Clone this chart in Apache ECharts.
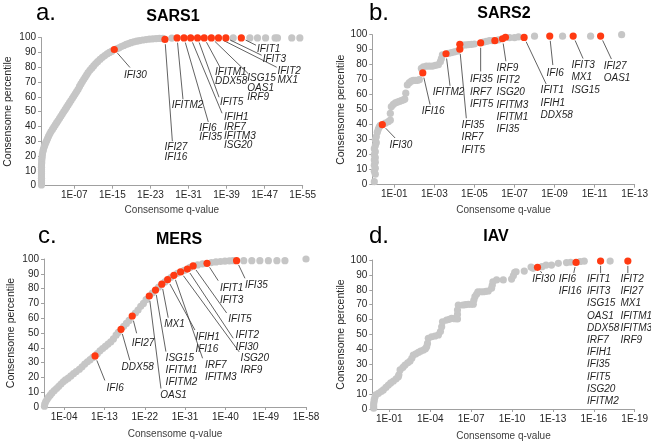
<!DOCTYPE html>
<html><head><meta charset="utf-8">
<script src="https://cdn.jsdelivr.net/npm/echarts@6/dist/echarts.min.js"></script>
<style>html,body{margin:0;padding:0;background:#fff}#c{width:651px;height:443px}</style>
</head><body><div id="c"></div>
<script>
// ---------------- DATA (x = -log10 q-value, y = consensome percentile) ----------------
const sars1Ticks = [7, 15, 23, 31, 39, 47, 55];
const sars2Ticks = [1, 3, 5, 7, 9, 11, 13];
const mersTicks = [4, 13, 22, 31, 40, 49, 58];
const iavTicks = [1, 4, 7, 10, 13, 16, 19];

const sars1Gray = [[0.1,0.5],[0.1,2],[0.1,3.5],[0.1,5],[0.1,6.5],[0.1,8],[0.1,9.5],[0.1,11],[0.1,12.5],[0.1,14],[0.15,15.5],[0.15,17],[0.2,18.5],[0.25,20],[0.3,21.5],[0.4,23],[0.5,24.5],[0.65,26],[0.8,27.5],[1.0,29],[1.2,30.5],[1.4,32],[1.6,33.5],[1.85,35],[2.1,36.5],[2.4,38],[2.7,39.5],[3.0,41],[3.3,42.5],[3.6,44],[3.9,45.5],[4.2,47],[4.5,48.5],[4.8,50],[5.1,51.5],[5.4,53],[5.7,54.5],[6.0,56],[6.3,57.5],[6.6,59],[6.9,60.5],[7.2,62],[7.5,63.5],[7.8,65],[8.1,67],[8.4,68.7],[8.7,70.3],[9.0,71.8],[9.3,73.3],[9.6,74.8],[9.9,76.3],[10.3,78],[10.7,79.5],[11.1,81],[11.5,82.4],[11.9,83.7],[12.4,85.2],[12.9,86.6],[13.4,87.8],[13.9,88.9],[14.4,89.9],[14.9,90.8],[15.9,92.3],[16.4,93.1],[16.9,93.9],[17.4,94.6],[17.9,95.3],[18.4,95.9],[18.9,96.5],[19.5,97],[20.1,97.5],[20.7,97.9],[21.4,98.3],[22.1,98.6],[22.8,98.9],[23.5,99.1],[24.2,99.3],[24.9,99.4],[25.6,99.5],[27.5,99.6],[40.4,99.7],[43.9,99.7],[45.5,99.7],[47.2,99.7],[49.2,99.7],[49.7,99.7],[52.7,99.7],[54.4,99.7]];
const sars1Red = [[15.4,91.9],[26.05,98.7],[28.6,99.7],[30.05,99.7],[31.45,99.7],[32.9,99.7],[34.3,99.7],[35.8,99.7],[37.3,99.7],[38.85,99.7],[42.1,99.7]];
const sars1Labels = [['IFI30'],['IFI27','IFI16'],['IFITM2'],['IFI6','IFI35'],['IFIH1','IRF7','IFITM3','ISG20'],['IFIT5'],['IFITM1','DDX58'],['ISG15','OAS1','IRF9'],['IFIT2','MX1'],['IFIT3'],['IFIT1']];

const sars2Gray = [[0.0,2],[0.05,7],[0.0,9],[0.05,11],[0.0,13],[0.05,15],[0.0,16.5],[0.05,18],[0.0,20],[0.05,22],[0.0,24],[0.05,26],[0.1,28],[0.05,30],[0.1,32],[0.15,35],[0.2,37],[0.25,38.5],[0.3,39.5],[0.55,41],[0.7,42],[0.8,43],[0.8,47.5],[0.85,52],[0.95,53.5],[1.05,54.5],[1.15,55],[1.25,55.5],[1.35,56],[1.45,56.5],[1.52,57],[1.57,61],[1.65,66.5],[1.75,68],[1.85,69],[1.95,69.5],[2.05,69.5],[2.15,69.5],[2.25,70],[2.35,77.5],[2.45,78.5],[2.6,79],[2.75,79],[2.9,79],[3.05,79.5],[3.2,80],[3.3,82],[3.35,84],[3.4,86.5],[3.7,87.5],[3.85,88],[4.0,88.5],[4.15,89],[4.4,93],[4.55,93.2],[4.7,93.4],[4.85,93.5],[5.0,93.8],[5.45,95],[5.6,95.5],[5.75,96],[5.9,96],[6.2,96.5],[6.75,98],[7.0,98],[7.2,98.5],[8.0,99],[9.4,99],[10.8,99],[12.35,100]];
const sars2Red = [[0.4,40],[2.42,74.5],[3.58,87.3],[4.27,90.3],[4.27,93.6],[5.31,94.5],[6.02,96],[6.4,97.3],[6.55,98.3],[7.48,98.2],[8.76,99.1],[9.93,99.1],[11.3,99.1]];
const sars2Labels = [['IFI30'],['IFI16'],['IFITM2'],['IFI35','IRF7','IFIT5'],null,['IFI35','IRF7','IFIT5'],null,['IRF9','IFIT2','ISG20','IFITM3','IFITM1','IFI35'],null,['IFIT1','IFIH1','DDX58'],['IFI6'],['IFIT3','MX1','ISG15'],['IFI27','OAS1']];

const mersGray = [[-0.4,0.5],[-0.33,2],[-0.13,3.5],[0.17,5],[0.47,6.5],[0.88,8],[1.28,9.5],[1.79,11],[2.3,12.5],[2.8,14],[3.3,15.5],[3.8,17],[4.3,18.3],[4.9,19.5],[5.5,21],[6.1,22.5],[6.7,24],[7.4,25.5],[8.0,27.2],[8.6,29],[9.2,30.5],[9.8,32],[10.4,33.5],[11.4,36],[12.0,38],[12.6,39.5],[13.2,41],[13.8,42.5],[14.4,44],[15.0,46],[15.6,48.5],[16.1,50.5],[17.3,54.5],[17.9,56.5],[18.5,58.5],[19.9,63.5],[20.5,65.5],[21.1,68],[21.7,70],[22.3,72.5],[23.7,77],[25.1,81],[26.5,84.5],[27.8,87.5],[29.3,90.3],[30.8,92.3],[32.1,94.3],[33.8,96],[34.9,96.7],[36.9,97.6],[37.9,98],[38.9,98.3],[39.9,98.5],[40.9,98.8],[41.7,98.9],[44.1,98.9],[45.9,98.9],[47.7,98.9],[49.6,98.9],[51.5,98.9],[53.3,98.9],[58,100]];
const mersRed = [[10.9,34.5],[16.7,52.5],[19.2,61.5],[23.0,75],[24.4,79],[25.8,83],[27.1,86],[28.5,89],[30.0,91.3],[31.5,93.2],[32.8,95.3],[35.9,97.1],[42.5,98.9]];
const mersLabels = [['IFI6'],['DDX58'],['IFI27'],['OAS1'],['ISG15','IFITM1','IFITM2'],['MX1'],['IFIH1','IFI16'],['IRF7','IFITM3'],['ISG20','IRF9'],['IFIT2','IFI30'],['IFIT5'],['IFIT1','IFIT3'],['IFI35']];

const iavGray = [[-0.15,0.5],[-0.15,2],[-0.15,3.5],[-0.12,5],[-0.1,6.5],[-0.05,8],[0,9.5],[0.2,10.5],[0.4,11.7],[0.56,12.8],[0.75,14.5],[0.93,16.1],[1.1,17.5],[1.3,18.8],[1.5,20.3],[1.66,21.7],[1.7,23],[1.79,26.2],[2.0,28],[2.15,29.5],[2.35,31],[2.52,32.2],[2.65,34],[2.76,36.2],[2.95,37],[3.13,38],[3.3,38.8],[3.5,39.6],[3.65,40.5],[3.74,41.8],[3.8,44],[3.86,47.4],[4.1,48.5],[4.35,49],[4.6,49.7],[4.75,52],[4.84,55.2],[4.9,58.5],[5.2,59.7],[5.4,60.2],[5.57,60.8],[5.8,60.6],[6.0,60.4],[6.0,63.5],[6.0,66.4],[6.06,69.8],[6.4,69.8],[6.6,70],[6.8,70.3],[7.0,70.3],[7.16,70.3],[7.2,73],[7.28,75.4],[7.4,77],[7.5,78.7],[7.7,78.7],[7.9,78.7],[8.1,79],[8.26,79.2],[8.5,81],[8.55,83],[8.6,85.4],[8.87,86.6],[9.36,86.6],[9.97,87.2],[10.1,89.5],[10.2,91.7],[10.3,92.1],[10.9,92.6],[11.4,95.3],[11.55,94.4],[12.2,95.5],[12.5,96.6],[12.9,96.6],[13.4,97.8],[14.0,98.3],[14.3,98.5],[15.0,99],[15.3,99.2],[17.2,99.3]];
const iavRed = [[11.87,95.1],[14.7,98.4],[16.5,99.3],[18.5,99.3]];
const iavLabels = [['IFI30'],['IFI6','IFI16'],['IFIT1','IFIT3','ISG15','OAS1','DDX58','IRF7','IFIH1','IFI35','IFIT5','ISG20','IFITM2'],['IFIT2','IFI27','MX1','IFITM1','IFITM3','IRF9']];

// ---------------- LAYOUT (pixel offsets from each red point: line end dx,dy ; text top-left dx,dy) ----------------
const sars1Lay = [[15.7,18,9.7,21.1],[7.4,101.8,-0.4,103.5],[5.9,61.3,-5.4,62.7],[24.3,84,15.3,85.3],[31.4,75.3,33.4,75],[21.5,59.3,22.5,59.4],[15.8,29.3,10.8,29.8],[37,35.8,36,36],[58.2,29.3,59,28.8],[35.8,17.3,36.8,17],[14.7,7.3,15.7,6.7]];
const sars2Lay = [[12.8,13.3,7.1,14.5],[7.3,31.7,-1,32.2],[4,32,-13.3,32.5],[6.5,69,1.8,70],null,[0,28.5,-10.7,30.6],null,[3.4,22.5,-5.9,23.4],null,[22,46.5,16.5,47.2],[3.1,29,-3.2,31.5],[9.9,22.5,-1.7,23.2],[10.8,23,3.1,24.1]];
const mersLay = [[9.8,24.5,11.5,25.8],[8.8,31,0.5,32],[4.4,17.3,-0.6,21.3],[11.7,92.5,11,93],[10.4,61.5,10.1,61.6],[6.4,33.5,2.4,33.8],[27.3,50.3,27.8,51.6],[28.7,83,31,83.7],[58.6,80,60,80.4],[45.9,69.2,48.3,59.9],[33.5,47,35.1,47.3],[11.2,17.4,12.9,19],[8.4,17.7,8.4,18.4]];
const iavLay = [[4.4,5.7,-5.3,6.2],[-2.3,10.6,-17.3,10.6],[0,12,-13.5,12],[0,12,-7.4,12]];

const panels = [
  {name:'SARS1', tag:'a.', gray:sars1Gray, red:sars1Red, labels:sars1Labels, lay:sars1Lay, ticks:sars1Ticks, min:0, max:55,
   grid:{left:41, top:37.5, width:261.7, height:148.2}, lh:9.2, titleX:173, titleY:17, tagX:36, tagY:13, yGap:27, xGap:20},
  {name:'SARS2', tag:'b.', gray:sars2Gray, red:sars2Red, labels:sars2Labels, lay:sars2Lay, ticks:sars2Ticks, min:-0.1, max:13,
   grid:{left:372.3, top:34.7, width:262.7, height:150}, lh:12.2, titleX:504, titleY:14, tagX:369, tagY:13, yGap:23, xGap:21},
  {name:'MERS', tag:'c.', gray:mersGray, red:mersRed, labels:mersLabels, lay:mersLay, ticks:mersTicks, min:-0.5, max:58,
   grid:{left:44, top:259, width:262, height:148}, lh:12.2, titleX:179, titleY:240, tagX:38, tagY:236, yGap:27, xGap:22},
  {name:'IAV', tag:'d.', gray:iavGray, red:iavRed, labels:iavLabels, lay:iavLay, ticks:iavTicks, min:-0.25, max:19,
   grid:{left:372.3, top:260, width:262.7, height:149}, lh:12.2, titleX:496, titleY:237, tagX:369, tagY:236, yGap:23, xGap:22}
];

const FONT = '"Liberation Sans", Arial, Helvetica, sans-serif';
const GRAY = '#c6c6c6', RED = '#ff3a12', AXIS = '#a0a0a0';
const fmt = v => '1E-' + String(Math.round(v)).padStart(2, '0');

const option = {
  animation: false,
  textStyle: {fontFamily: FONT},
  grid: [], xAxis: [], yAxis: [], series: [], graphic: []
};

panels.forEach((P, k) => {
  option.grid.push(Object.assign({containLabel: false}, P.grid));
  option.xAxis.push({
    type: 'value', gridIndex: k, min: P.min, max: P.max,
    name: 'Consensome q-value', nameLocation: 'middle', nameGap: P.xGap,
    nameTextStyle: {fontSize: 10, color: '#404040', fontFamily: FONT},
    axisLine: {show: true, onZero: false, lineStyle: {color: AXIS, width: 1}},
    axisTick: {show: true, length: 3, customValues: P.ticks, lineStyle: {color: AXIS}},
    axisLabel: {customValues: P.ticks, formatter: fmt, fontSize: 10, color: '#262626', margin: 5, fontFamily: FONT},
    splitLine: {show: false}
  });
  option.yAxis.push({
    type: 'value', gridIndex: k, min: 0, max: 100, interval: 10,
    name: 'Consensome percentile', nameLocation: 'middle', nameGap: P.yGap,
    nameTextStyle: {fontSize: 10.5, color: '#262626', fontFamily: FONT},
    axisLine: {show: true, onZero: false, lineStyle: {color: AXIS, width: 1}},
    axisTick: {show: true, length: 3, lineStyle: {color: AXIS}},
    axisLabel: {fontSize: 10, color: '#262626', margin: 5, fontFamily: FONT},
    splitLine: {show: false}
  });
  option.series.push({
    type: 'scatter', xAxisIndex: k, yAxisIndex: k, data: P.gray, symbolSize: 7.2,
    itemStyle: {color: GRAY, opacity: 1}, z: 2, silent: true
  });
  option.series.push({
    type: 'scatter', xAxisIndex: k, yAxisIndex: k, data: P.red, symbolSize: 7.2,
    itemStyle: {color: RED, opacity: 1}, z: 4, silent: true
  });
  const annData = [];
  P.red.forEach((d, j) => { if (P.labels[j]) annData.push([d[0], d[1], j]); });
  option.series.push({
    type: 'custom', xAxisIndex: k, yAxisIndex: k, data: annData, z: 3, silent: true, clip: false,
    encode: {x: 0, y: 1},
    renderItem: (params, api) => {
      const j = api.value(2);
      const pt = api.coord([api.value(0), api.value(1)]);
      const L = P.lay[j];
      const ex = pt[0] + L[0], ey = pt[1] + L[1];
      const len = Math.hypot(L[0], L[1]) || 1;
      const sx = pt[0] + L[0] / len * 4.8, sy = pt[1] + L[1] / len * 4.8;
      return {type: 'group', children: [
        {type: 'line', shape: {x1: sx, y1: sy, x2: ex, y2: ey}, style: {stroke: '#3a3a3a', lineWidth: 0.8}},
        {type: 'text', x: pt[0] + L[2], y: pt[1] + L[3], style: {
          text: P.labels[j].join('\n'), font: 'italic 10px ' + FONT, fill: '#1f1f1f',
          lineHeight: P.lh, align: 'left', verticalAlign: 'top'}}
      ]};
    }
  });
  option.graphic.push({type: 'text', x: P.titleX, y: P.titleY, style: {text: P.name, font: 'bold 16px ' + FONT, fill: '#000', textAlign: 'center', textVerticalAlign: 'middle'}});
  option.graphic.push({type: 'text', x: P.tagX, y: P.tagY, style: {text: P.tag, font: '24px ' + FONT, fill: '#000', textAlign: 'left', textVerticalAlign: 'middle'}});
});

const chart = echarts.init(document.getElementById('c'), null, {renderer: 'canvas'});
chart.setOption(option);
</script></body></html>
